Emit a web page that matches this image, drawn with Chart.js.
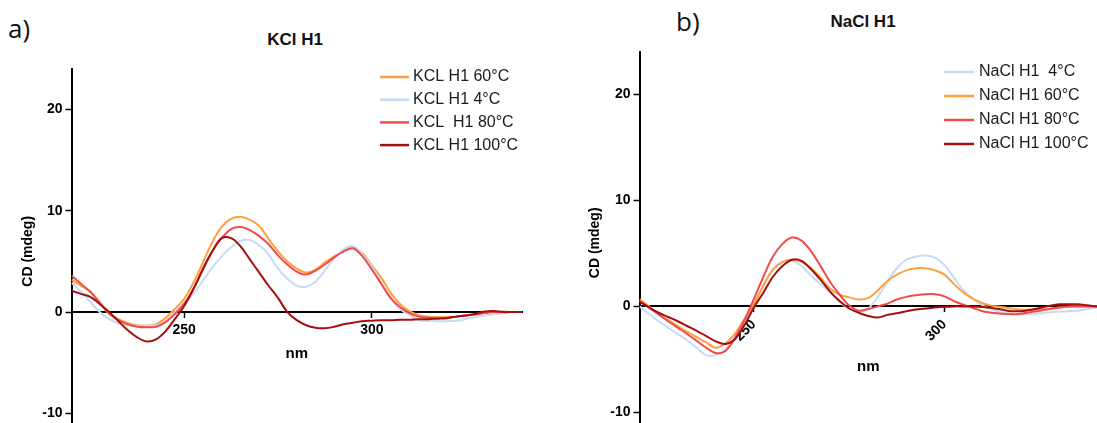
<!DOCTYPE html>
<html>
<head>
<meta charset="utf-8">
<script src="https://cdn.jsdelivr.net/npm/chart.js@4.4.1/dist/chart.umd.min.js"></script>
<style>
  html, body { margin: 0; padding: 0; background: #fff; overflow: hidden; }
  #wrap { position: relative; width: 1097px; height: 423px; overflow: hidden; }
  canvas { position: absolute; top: 0; }
  .tag { position: absolute; font-family: "Open Sans", sans-serif; font-size: 26px; line-height: 1; color: #111; }
  .ttl { position: absolute; font-family: "Liberation Sans", Arial, sans-serif; font-weight: bold; font-size: 17px;
         line-height: 1; color: #111; transform: translate(-50%, -50%); white-space: nowrap; }
</style>
</head>
<body>
<div id="wrap">
  <div class="tag" style="left:8px; top:15px;">a)</div>
  <div class="ttl" style="left:295px; top:39px;">KCl H1</div>
  <div class="tag" style="left:676px; top:8px;">b)</div>
  <div class="ttl" style="left:863px; top:21px;">NaCl H1</div>
  <canvas id="chartKcl" width="540" height="445" style="left:0px;"></canvas>
  <canvas id="chartNacl" width="537" height="445" style="left:560px;"></canvas>
</div>
<script>
// wavelength grid (nm), shared by both panels
const wavelengths = [220, 222.5, 225, 227.5, 230, 232.5, 235, 237.5, 240, 242.5,
  245, 247.5, 250, 252.5, 255, 257.5, 260, 262.5, 265, 267.5,
  270, 272.5, 275, 277.5, 280, 282.5, 285, 287.5, 290, 292.5,
  295, 297.5, 300, 302.5, 305, 307.5, 310, 312.5, 315, 317.5,
  320, 322.5, 325, 327.5, 330, 332.5, 335, 337.5, 340];

const xTicks = [250, 300];
const yTicks = [-10, 0, 10, 20];

// ---- a) KCl H1 (CD, mdeg) ----
const kclLabels = ["KCL H1 60°C", "KCL H1 4°C", "KCL  H1 80°C", "KCL H1 100°C"];
const kcl60 = [3.2, 2.6, 2.0, 1.0, -0.2, -0.7, -1.1, -1.3, -1.35, -1.2,
  -0.6, 0.3, 1.3, 2.9, 4.9, 6.9, 8.4, 9.2, 9.4, 9.1,
  8.5, 7.2, 6.0, 5.0, 4.3, 3.9, 4.2, 4.9, 5.5, 6.0,
  6.3, 5.8, 4.6, 3.4, 1.9, 0.8, 0.1, -0.3, -0.45, -0.5,
  -0.5, -0.45, -0.35, -0.2, -0.1, 0.0, 0.05, 0.0, 0.0];
const kcl4 = [2.9, 2.0, 1.0, 0.0, -0.7, -1.1, -1.3, -1.35, -1.35, -1.3,
  -1.0, 0.0, 0.9, 1.8, 3.1, 4.4, 5.5, 6.4, 7.0, 7.1,
  6.6, 5.7, 4.3, 3.3, 2.6, 2.5, 3.0, 4.1, 5.3, 6.2,
  6.5, 5.7, 4.5, 2.9, 1.3, 0.3, -0.3, -0.8, -0.85, -0.9,
  -0.9, -0.85, -0.7, -0.5, -0.35, -0.2, -0.1, 0.0, 0.0];
const kcl80 = [3.6, 2.8, 2.0, 0.9, -0.1, -0.8, -1.2, -1.45, -1.5, -1.45,
  -1.0, -0.2, 0.8, 2.3, 4.3, 6.0, 7.3, 8.2, 8.4, 8.1,
  7.5, 6.7, 5.6, 4.7, 4.0, 3.7, 4.1, 4.7, 5.4, 6.0,
  6.3, 5.5, 4.2, 2.8, 1.4, 0.5, -0.1, -0.45, -0.55, -0.6,
  -0.55, -0.45, -0.35, -0.25, -0.1, 0.0, 0.0, 0.0, 0.0];
const kcl100 = [2.1, 1.8, 1.5, 0.8, 0.0, -0.9, -1.8, -2.5, -2.9, -2.7,
  -1.9, -0.7, 0.6, 2.3, 4.2, 6.0, 7.3, 7.3, 6.5, 5.2,
  3.9, 2.6, 1.4, 0.0, -0.8, -1.3, -1.55, -1.6, -1.45, -1.2,
  -1.05, -0.9, -0.85, -0.8, -0.8, -0.75, -0.75, -0.7, -0.7, -0.65,
  -0.6, -0.45, -0.35, -0.2, 0.05, 0.1, 0.0, 0.0, 0.0];

// ---- b) NaCl H1 (CD, mdeg) ----
const naclLabels = ["NaCl H1  4°C", "NaCl H1 60°C", "NaCl H1 80°C", "NaCl H1 100°C"];
const nacl4 = [0.0, -0.7, -1.4, -2.0, -2.6, -3.2, -3.9, -4.6, -4.6, -4.1,
  -2.9, -1.5, 0.2, 1.9, 3.4, 4.1, 4.3, 3.8, 2.9, 2.1,
  1.3, 0.4, -0.2, -0.5, -0.2, 0.9, 2.3, 3.6, 4.4, 4.7,
  4.8, 4.6, 3.9, 2.7, 1.5, 0.7, 0.1, -0.3, -0.55, -0.7,
  -0.75, -0.75, -0.65, -0.55, -0.5, -0.45, -0.4, -0.25, -0.1];
const nacl60 = [0.66, 0.0, -0.75, -1.3, -1.85, -2.4, -2.9, -3.4, -3.9, -3.5,
  -2.6, -1.2, 0.2, 2.0, 3.5, 4.2, 4.4, 4.2, 3.6, 2.7,
  1.7, 1.1, 0.85, 0.65, 0.8, 1.5, 2.4, 3.0, 3.4, 3.6,
  3.6, 3.4, 3.0, 2.1, 1.3, 0.7, 0.3, 0.05, -0.05, -0.2,
  -0.3, -0.3, -0.3, -0.25, -0.1, -0.05, 0.0, 0.0, 0.0];
const nacl80 = [0.5, -0.1, -0.75, -1.4, -2.0, -2.6, -3.25, -3.9, -4.4, -4.2,
  -3.0, -1.3, 0.7, 2.8, 4.7, 5.9, 6.5, 6.2, 5.2, 3.8,
  2.3, 1.1, 0.1, -0.4, -0.25, 0.0, 0.25, 0.65, 0.9, 1.05,
  1.15, 1.15, 0.95, 0.5, 0.15, -0.15, -0.45, -0.6, -0.7, -0.75,
  -0.7, -0.55, -0.4, -0.25, -0.1, 0.0, 0.0, 0.0, 0.0];
const nacl100 = [0.45, -0.1, -0.6, -1.0, -1.4, -1.85, -2.3, -2.8, -3.3, -3.55,
  -3.1, -1.8, -0.1, 1.3, 2.8, 3.8, 4.4, 4.3, 3.5, 2.5,
  1.4, 0.5, -0.2, -0.6, -0.9, -1.05, -0.8, -0.65, -0.45, -0.3,
  -0.2, -0.1, -0.05, 0.0, 0.0, 0.0, -0.05, -0.15, -0.3, -0.45,
  -0.45, -0.35, -0.15, 0.05, 0.2, 0.2, 0.2, 0.1, 0.0];

const cOrange = "#ffa040";
const cBlue = "#c6dbf5";
const cRed = "#f24b4b";
const cDark = "#a3100f";

Chart.defaults.font.family = '"Liberation Sans", Arial, sans-serif';
Chart.defaults.color = "#000";

// legend drawn inside the plot, GraphPad style
const legendBox = {
  id: "legendBox",
  afterDatasetsDraw(chart, args, o) {
    const ctx = chart.ctx;
    ctx.save();
    ctx.font = '16px "Liberation Sans", Arial, sans-serif';
    ctx.textBaseline = "middle";
    chart.data.datasets.forEach((ds, i) => {
      const y = o.y + i * o.gap;
      ctx.strokeStyle = ds.borderColor;
      ctx.lineWidth = 2.5;
      ctx.beginPath();
      ctx.moveTo(o.x1, y);
      ctx.lineTo(o.x2, y);
      ctx.stroke();
      ctx.fillStyle = "#1a1a1a";
      ctx.fillText(ds.label, o.tx, y);
    });
    ctx.restore();
  }
};

function buildPanel(id, labels, values, colors, p) {
  const n = labels.length;
  return new Chart(document.getElementById(id), {
    type: "line",
    plugins: [legendBox],
    data: {
      datasets: labels.map((lab, i) => ({
        label: lab,
        data: wavelengths.map((x, j) => ({ x: x, y: values[i][j] })),
        borderColor: colors[i],
        borderWidth: 2,
        pointRadius: 0,
        tension: 0.35,
        fill: false,
        order: n - 1 - i
      }))
    },
    options: {
      responsive: false,
      animation: false,
      events: [],
      layout: { padding: p.pad },
      plugins: {
        legend: { display: false },
        tooltip: { enabled: false },
        legendBox: p.legend
      },
      scales: {
        x: {
          type: "linear", min: 220, max: 340,
          position: { y: 0 },
          afterBuildTicks: s => { s.ticks = xTicks.map(v => ({ value: v })); },
          grid: { drawOnChartArea: false, tickLength: 5, tickColor: "#000", tickWidth: 1.5 },
          border: { color: "#000", width: 2 },
          ticks: { font: { size: 14, weight: "bold" }, color: "#000", padding: 5,
                   minRotation: p.rot, maxRotation: p.rot, autoSkip: false },
          title: { display: true, text: "nm", font: { size: 15, weight: "bold" }, color: "#000",
                   padding: { top: p.nmPad, bottom: 0 } }
        },
        y: {
          type: "linear", min: -12, max: 24,
          afterBuildTicks: s => { s.ticks = yTicks.map(v => ({ value: v })); },
          afterFit: s => { s.width = p.yWidth; },
          grid: { drawOnChartArea: false, tickLength: 6, tickColor: "#000", tickWidth: 1.5 },
          border: { color: "#000", width: 2 },
          ticks: { font: { size: 14, weight: "bold" }, color: "#000", padding: 3 },
          title: { display: true, text: "CD (mdeg)", font: { size: 14, weight: "bold" }, color: "#000",
                   padding: { top: p.cdPad, bottom: 0 } }
        }
      }
    }
  });
}

buildPanel("chartKcl", kclLabels, [kcl60, kcl4, kcl80, kcl100], [cOrange, cBlue, cRed, cDark], {
  pad: { left: 0, right: 18, top: 69, bottom: 11 },
  yWidth: 71.5, cdPad: 20, nmPad: 1, rot: 0,
  legend: { x1: 380, x2: 409, tx: 413, y: 77, gap: 22.7 }
});

buildPanel("chartNacl", naclLabels, [nacl4, nacl60, nacl80, nacl100], [cBlue, cOrange, cRed, cDark], {
  pad: { left: 0, right: 0, top: 52, bottom: 11 },
  yWidth: 79.5, cdPad: 27, nmPad: 8, rot: 45,
  legend: { x1: 384, x2: 414, tx: 419, y: 72, gap: 24 }
});
</script>
</body>
</html>
